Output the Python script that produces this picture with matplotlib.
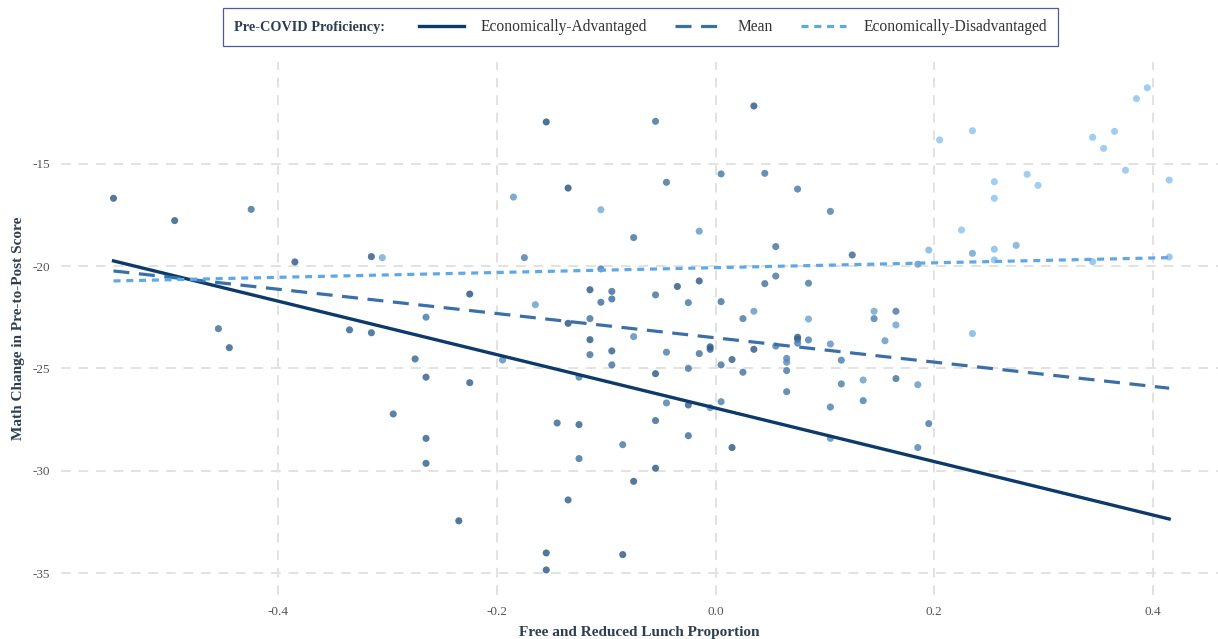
import matplotlib
matplotlib.use("Agg")
import matplotlib.pyplot as plt
import numpy as np
from matplotlib.colors import LinearSegmentedColormap
from matplotlib.lines import Line2D
from matplotlib.offsetbox import HPacker

plt.rcParams["font.family"] = ["Liberation Serif", "DejaVu Serif"]
plt.rcParams["axes.unicode_minus"] = False

# school-level points: FRL proportion (centered), math change, colour shade (0 dark .. 1 light)
frl = [-0.551, -0.495, -0.425, -0.385, -0.315, -0.305, -0.455, -0.445, -0.335, -0.315,
       -0.295, -0.275, -0.265, -0.265, -0.265, -0.265, -0.225, -0.225, -0.235, -0.195,
       -0.185, -0.175, -0.165, -0.155, -0.155, -0.155, -0.145, -0.135, -0.135, -0.135,
       -0.125, -0.125, -0.125, -0.115, -0.115, -0.115, -0.115, -0.105, -0.105, -0.105,
       -0.095, -0.095, -0.095, -0.095, -0.085, -0.085, -0.075, -0.075, -0.075, -0.055,
       -0.055, -0.055, -0.055, -0.055, -0.045, -0.045, -0.045, -0.035, -0.025, -0.025,
       -0.025, -0.025, -0.015, -0.015, -0.015, -0.005, -0.005, -0.005, 0.005, 0.005,
       0.005, 0.005, 0.015, 0.015, 0.025, 0.025, 0.035, 0.035, 0.035, 0.045,
       0.045, 0.055, 0.055, 0.055, 0.065, 0.065, 0.065, 0.065, 0.075, 0.075,
       0.075, 0.075, 0.085, 0.085, 0.085, 0.105, 0.105, 0.105, 0.105, 0.115,
       0.115, 0.125, 0.135, 0.135, 0.145, 0.145, 0.155, 0.165, 0.165, 0.165,
       0.185, 0.185, 0.185, 0.195, 0.195, 0.205, 0.225, 0.235, 0.235, 0.235,
       0.255, 0.255, 0.255, 0.255, 0.275, 0.285, 0.295, 0.345, 0.345, 0.355,
       0.365, 0.375, 0.385, 0.395, 0.415, 0.415]
math_change = [-16.69, -17.78, -17.23, -19.80, -19.54, -19.59, -23.06, -23.99, -23.12, -23.26,
               -27.23, -24.54, -22.50, -25.43, -28.42, -29.64, -21.37, -25.70, -32.45, -24.59,
               -16.63, -19.59, -21.89, -12.96, -34.02, -34.85, -27.67, -16.19, -22.80, -31.43,
               -25.43, -27.75, -29.41, -21.16, -22.57, -23.60, -24.33, -17.25, -20.14, -21.77,
               -21.24, -21.61, -24.15, -24.83, -28.73, -34.10, -18.61, -23.45, -30.52, -12.93,
               -21.41, -25.26, -27.55, -29.88, -15.91, -24.21, -26.69, -21.00, -21.79, -25.00,
               -26.79, -28.29, -18.30, -20.73, -24.28, -23.95, -24.07, -26.92, -15.50, -21.74,
               -24.83, -26.63, -24.57, -28.87, -22.57, -25.19, -12.18, -22.21, -24.07, -15.47,
               -20.86, -19.05, -20.49, -23.91, -24.51, -24.70, -25.11, -26.14, -16.24, -23.48,
               -23.58, -23.77, -20.84, -22.59, -23.61, -17.33, -23.81, -26.89, -28.42, -24.60,
               -25.76, -19.46, -25.57, -26.58, -22.21, -22.57, -23.65, -22.21, -22.88, -25.50,
               -19.91, -25.80, -28.87, -19.22, -27.70, -13.84, -18.24, -13.39, -19.38, -23.30,
               -15.88, -16.69, -19.18, -19.70, -18.99, -15.52, -16.06, -13.71, -19.79, -14.25,
               -13.42, -15.32, -11.82, -11.29, -15.80, -19.56]
shade = [0.1, 0.1, 0.3, 0.1, 0.1, 0.75, 0.25, 0.15, 0.15, 0.15,
         0.2, 0.2, 0.35, 0.15, 0.15, 0.15, 0.05, 0.15, 0.1, 0.5,
         0.6, 0.4, 0.65, 0.05, 0.1, 0.1, 0.2, 0.05, 0.05, 0.15,
         0.4, 0.15, 0.3, 0.1, 0.3, 0.1, 0.3, 0.75, 0.35, 0.25,
         0.25, 0.25, 0.15, 0.3, 0.35, 0.1, 0.3, 0.5, 0.1, 0.3,
         0.3, 0.1, 0.2, 0.1, 0.3, 0.4, 0.4, 0.1, 0.35, 0.3,
         0.15, 0.25, 0.6, 0.1, 0.3, 0.05, 0.15, 0.55, 0.35, 0.3,
         0.3, 0.4, 0.15, 0.1, 0.35, 0.3, 0.1, 0.6, 0.1, 0.35,
         0.3, 0.3, 0.35, 0.4, 0.45, 0.5, 0.35, 0.35, 0.35, 0.1,
         0.2, 0.4, 0.35, 0.7, 0.4, 0.4, 0.55, 0.4, 0.5, 0.4,
         0.4, 0.2, 0.65, 0.4, 0.7, 0.4, 0.6, 0.35, 0.7, 0.3,
         0.6, 0.6, 0.45, 0.85, 0.35, 0.95, 0.95, 0.95, 0.7, 0.85,
         0.95, 0.95, 0.9, 0.9, 0.75, 0.95, 0.95, 0.95, 0.9, 0.95,
         0.95, 0.95, 0.95, 0.95, 0.95, 0.9]

# fitted lines (endpoints)
line_x = [-0.551, 0.415]
adv_y = [-19.75, -32.36]
mean_y = [-20.24, -25.97]
dis_y = [-20.73, -19.59]

legend_labels = ["Economically-Advantaged", "Mean", "Economically-Disadvantaged"]
x_ticks = [-0.4, -0.2, 0.0, 0.2, 0.4]
y_ticks = [-35, -30, -25, -20, -15]

cmap = LinearSegmentedColormap.from_list("blues", ["#1d4a78", "#8cc8f5"])

fig = plt.figure(figsize=(12.18, 6.39), dpi=100)
ax = fig.add_axes([0.0501, 0.069, 0.9499, 0.834])

ax.scatter(frl, math_change, c=shade, cmap=cmap, vmin=0, vmax=1, s=26,
           alpha=0.8, edgecolors="none", zorder=3)

c_adv, c_mean, c_dis = "#0b3a6b", "#3a6fa8", "#5ea8e8"
ax.plot(line_x, adv_y, color=c_adv, lw=2.4, zorder=4)
ax.plot(line_x, mean_y, color=c_mean, lw=2.3, dashes=(5, 3), zorder=4)
ax.plot(line_x, dis_y, color=c_dis, lw=2.3, dashes=(2.2, 1.8), zorder=4)

ax.set_xlim(-0.599, 0.4597)
ax.set_ylim(-36.07, -10.03)
ax.set_xticks(x_ticks)
ax.set_xticklabels([f"{t:.1f}" for t in x_ticks])
ax.set_yticks(y_ticks)
ax.set_yticklabels([str(t) for t in y_ticks])
ax.tick_params(length=0, labelsize=9.5, labelcolor="#555555", pad=8)
ax.grid(True, color="#e2e2e2", lw=1.4, dashes=(5, 4))
ax.set_axisbelow(True)
for sp in ax.spines.values():
    sp.set_visible(False)

ax.set_xlabel("Free and Reduced Lunch Proportion", fontsize=11, fontweight="bold",
              color="#2d3e50", labelpad=5.5)
ax.set_ylabel("Math Change in Pre-to-Post Score", fontsize=11, fontweight="bold",
              color="#2d3e50", labelpad=5)

handles = [Line2D([], [], color=c_adv, lw=2.4),
           Line2D([], [], color=c_mean, lw=2.3, dashes=(5, 3)),
           Line2D([], [], color=c_dis, lw=2.3, dashes=(2.2, 1.8))]
leg = fig.legend(handles, legend_labels, loc="upper center", bbox_to_anchor=(0.526, 0.9875),
                 borderaxespad=0, ncol=3, frameon=True, fancybox=False, edgecolor="#2b2f77",
                 title="Pre-COVID Proficiency:", fontsize=11.2, handlelength=2.9,
                 columnspacing=1.8, handletextpad=1.1, borderpad=0.55)
leg.get_frame().set_linewidth(0.9)
leg.get_title().set_fontweight("bold")
leg.get_title().set_fontsize(10.3)
leg.get_title().set_color("#2d3e50")
for t in leg.get_texts():
    t.set_color("#333333")
# put the title on the same row as the entries
kids = leg._legend_box.get_children()
hp = HPacker(children=kids, align="center", pad=8, sep=24)
hp.set_figure(fig)
hp.axes = leg.axes
hp.set_offset(leg._findoffset)
leg._legend_box = hp

fig.savefig("out.png", dpi=100)
